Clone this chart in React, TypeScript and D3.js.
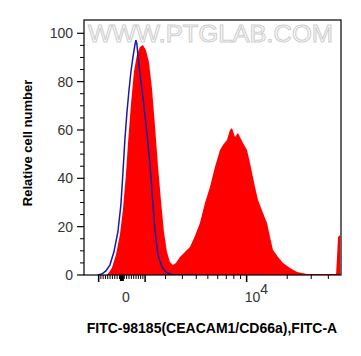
import React from "react";
import * as d3 from "d3";

// Histogram data (fluorescence value, relative cell number)
const redX = [-680, -594, -422, -252, -84, 42, 168, 252, 380, 508, 637, 768, 901, 1036, 1174, 1315, 1459, 1606, 1759, 1916, 2077, 2243, 2415, 2594, 2842, 3170, 3521, 3897, 4299, 4734, 5201, 5704, 6249, 6596, 7086, 7474, 7743, 8163, 8605, 9388, 10062, 10600, 11554, 12162, 13251, 14188, 14933, 15717, 17112, 18627, 20972, 23607, 27950, 34800, 43300, 45600, 47100, 48750];
const redY = [0, 0.4, 2.9, 8.3, 16.5, 26.9, 41.4, 53.8, 70.3, 84.0, 91.0, 94.3, 95.2, 93.1, 88.1, 77.4, 62.1, 45.5, 31.0, 17.8, 9.5, 5.4, 4.1, 5.0, 7.4, 9.5, 11.6, 16.1, 21.5, 29.8, 36.4, 44.7, 51.7, 53.8, 55.9, 60.0, 60.8, 57.1, 58.8, 54.6, 51.7, 46.3, 36.4, 31.0, 25.7, 21.5, 15.7, 10.3, 7.4, 5.0, 2.9, 1.2, 0.4, 0.4, 0.4, 0.4, 15.7, 16.5];

const blueX = [-1036, -856, -680, -508, -337, -168, -42, 42, 126, 210, 295, 380, 465, 551, 594, 637, 680, 724, 812, 901, 991, 1082, 1220, 1338, 1459, 1606, 1811, 2023, 2357, 2842, 3897];
const blueY = [0, 0.4, 1.7, 4.1, 9.5, 17.8, 29.0, 42.0, 56.0, 67.0, 76.0, 84.0, 90.0, 95.2, 97.2, 95.6, 91.0, 86.9, 79.9, 73.6, 66.2, 58.8, 46.3, 32.3, 18.6, 8.3, 3.3, 1.2, 0.2, 0, 0];

// Axis ticks
const xLinearMinorTicks = d3.range(-900, 1000, 100).filter((v) => v !== 0);
const xLogMinorTicks = [2000, 3000, 4000, 5000, 6000, 7000, 8000, 9000, 20000, 30000, 40000];
const xMajorTicks = [-1000, 1000, 10000];
const yMajorTicks = [0, 20, 40, 60, 80, 100];
const yMinorTicks = d3.range(5, 105, 5).filter((v) => v % 20 !== 0);

const W = 361;
const H = 356;
const left = 84, right = 341, top = 20, bottom = 275;

const T = (v: number) => Math.asinh(v / 2500);
const xs = d3.scaleLinear().domain([T(-1700), T(49500)]).range([left, right]);
const px = (v: number) => xs(T(v));
const y = d3.scaleLinear().domain([0, 105.5]).range([bottom, top]);

const font = "'Liberation Sans', Arial, sans-serif";

export default function App() {
  const redPts: [number, number][] = redX.map((v, i) => [v, redY[i]]);
  const bluePts: [number, number][] = blueX.map((v, i) => [v, blueY[i]]);
  const area = d3
    .area<[number, number]>()
    .x((d) => px(d[0]))
    .y0(y(0))
    .y1((d) => y(d[1]));
  const line = d3
    .line<[number, number]>()
    .x((d) => px(d[0]))
    .y((d) => y(d[1]));

  return (
    <svg width={W} height={H} style={{ position: "absolute", left: 0, top: 0, background: "#fff" }}>
      <defs>
        <clipPath id="plot">
          <rect x={left} y={top} width={right - left} height={bottom - top} />
        </clipPath>
      </defs>
      <rect x={0} y={0} width={W} height={H} fill="#fff" />
      {/* watermark */}
      <text
        x={88}
        y={42}
        fontFamily={font}
        fontSize={23}
        fill="#fff"
        stroke="#cfcfcf"
        strokeWidth={1}
        textLength={245}
        lengthAdjust="spacingAndGlyphs"
      >
        WWW.PTGLAB.COM
      </text>
      <g clipPath="url(#plot)">
        <path d={area(redPts) || ""} fill="#ff0000" />
        <path d={line(bluePts) || ""} fill="none" stroke="#1a1aa8" strokeWidth={1.5} />
      </g>
      <rect x={left} y={top} width={right - left} height={bottom - top} fill="none" stroke="#000" strokeWidth={1.2} />
      {/* y ticks */}
      {yMajorTicks.map((t) => (
        <g key={"ym" + t}>
          <line x1={left - 7} x2={left} y1={y(t)} y2={y(t)} stroke="#000" strokeWidth={1.2} />
          <text x={73} y={y(t) + 5} textAnchor="end" fontFamily={font} fontSize={14} fill="#333">
            {t}
          </text>
        </g>
      ))}
      {yMinorTicks.map((t) => (
        <line key={"yn" + t} x1={left - 4} x2={left} y1={y(t)} y2={y(t)} stroke="#000" strokeWidth={1} />
      ))}
      {/* x ticks */}
      {xLinearMinorTicks.map((t) => (
        <line key={"xl" + t} x1={px(t)} x2={px(t)} y1={bottom} y2={bottom + 4} stroke="#000" strokeWidth={1} />
      ))}
      <line x1={px(0)} x2={px(0)} y1={bottom} y2={bottom + 6} stroke="#000" strokeWidth={4} />
      {xLogMinorTicks.map((t) => (
        <line key={"xg" + t} x1={px(t)} x2={px(t)} y1={bottom} y2={bottom + 4} stroke="#000" strokeWidth={1} />
      ))}
      {xMajorTicks.map((t) => (
        <line key={"xm" + t} x1={px(t)} x2={px(t)} y1={bottom} y2={bottom + 7} stroke="#000" strokeWidth={1.5} />
      ))}
      <text x={px(0) + 4} y={302} textAnchor="middle" fontFamily={font} fontSize={14} fill="#333">
        0
      </text>
      <text x={px(10000) - 2} y={302} fontFamily={font} fontSize={14} fill="#333">
        10
        <tspan dy={-8} fontSize={14}>4</tspan>
      </text>
      {/* axis titles */}
      <text
        x={212}
        y={333}
        textAnchor="middle"
        fontFamily={font}
        fontSize={14}
        fontWeight="bold"
        fill="#000"
      >
        FITC-98185(CEACAM1/CD66a),FITC-A
      </text>
      <text
        transform="translate(32,143) rotate(-90)"
        textAnchor="middle"
        fontFamily={font}
        fontSize={13}
        fontWeight="bold"
        fill="#000"
      >
        Relative cell number
      </text>
    </svg>
  );
}
